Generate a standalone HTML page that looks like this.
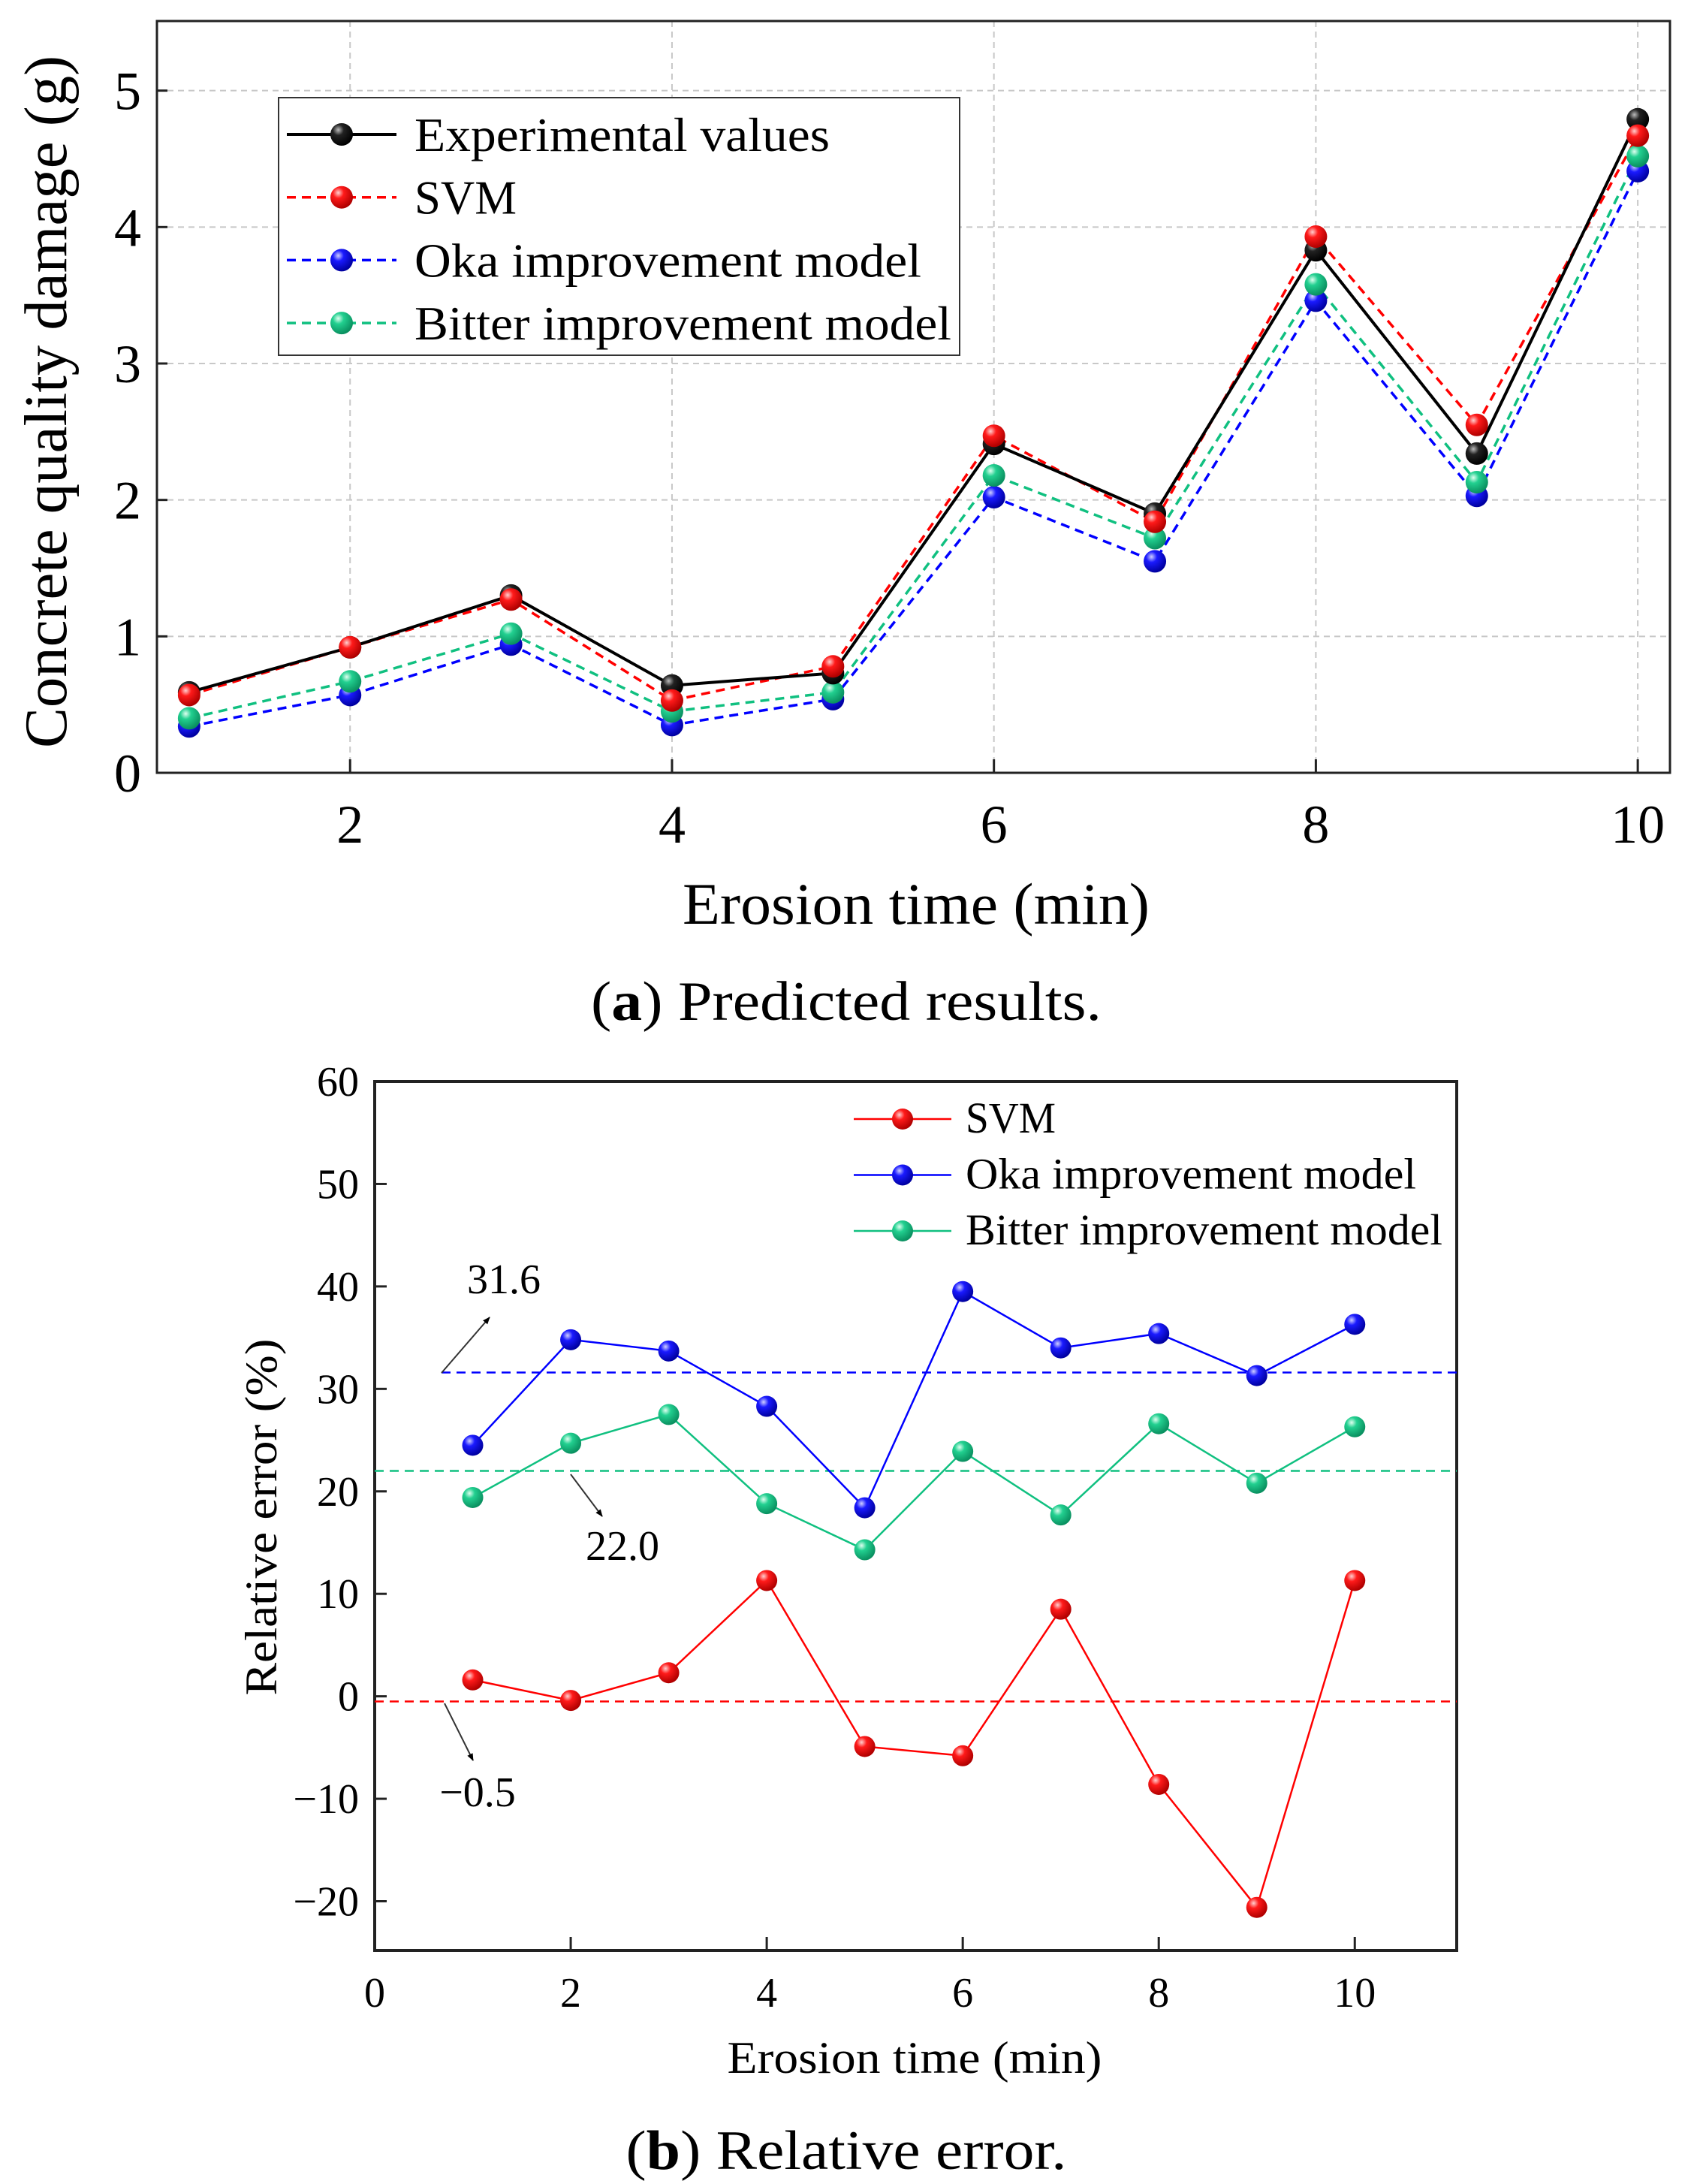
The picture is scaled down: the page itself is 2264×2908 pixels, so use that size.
<!DOCTYPE html>
<html><head><meta charset="utf-8">
<style>
html,body{margin:0;padding:0;background:#fff;}
svg{display:block;font-family:"Liberation Serif",serif;}
</style></head>
<body>
<svg id="fig" width="2264" height="2908" viewBox="0 0 2264 2908" xmlns="http://www.w3.org/2000/svg">
<defs>
<radialGradient id="g-black" cx="0.35" cy="0.3" r="0.7"><stop offset="0" stop-color="#bbb"/><stop offset="0.35" stop-color="#222"/><stop offset="1" stop-color="#000"/></radialGradient>
<radialGradient id="g-red" cx="0.35" cy="0.3" r="0.7"><stop offset="0" stop-color="#ffd0d0"/><stop offset="0.35" stop-color="#ff1a1a"/><stop offset="1" stop-color="#b00000"/></radialGradient>
<radialGradient id="g-blue" cx="0.35" cy="0.3" r="0.7"><stop offset="0" stop-color="#d0d0ff"/><stop offset="0.35" stop-color="#1a1aff"/><stop offset="1" stop-color="#0000a0"/></radialGradient>
<radialGradient id="g-green" cx="0.35" cy="0.3" r="0.7"><stop offset="0" stop-color="#e0fff0"/><stop offset="0.35" stop-color="#22d090"/><stop offset="1" stop-color="#0a9060"/></radialGradient>
<marker id="arr" markerWidth="10" markerHeight="10" refX="9" refY="5" orient="auto" markerUnits="userSpaceOnUse" viewBox="0 0 10 10"><path d="M0,1 L10,5 L0,9 z" fill="#000"/></marker>
</defs>
<g id="topChart"></g>
<g id="botChart"></g>
</svg>
<script>
// ---- Chart (a) data ----
const timesA = [1,2,3,4,5,6,7,8,9,10];
const expVals = [0.59,0.92,1.30,0.64,0.73,2.41,1.90,3.83,2.34,4.79];
const svmVals = [0.57,0.92,1.27,0.53,0.78,2.47,1.84,3.93,2.55,4.67];
const okaVals = [0.34,0.57,0.94,0.35,0.54,2.02,1.55,3.46,2.03,4.41];
const bitterVals = [0.40,0.67,1.02,0.45,0.59,2.18,1.72,3.58,2.13,4.52];
const yTicksA = [0,1,2,3,4,5];
const xTicksA = [2,4,6,8,10];
// ---- Chart (b) data ----
const timesB = [1,2,3,4,5,6,7,8,9,10];
const svmErr = [1.6,-0.4,2.3,11.3,-4.9,-5.8,8.5,-8.6,-20.6,11.3];
const okaErr = [24.5,34.8,33.7,28.3,18.4,39.5,34.0,35.4,31.3,36.3];
const bitterErr = [19.4,24.7,27.5,18.8,14.3,23.9,17.7,26.6,20.8,26.3];
const meanErr = [-0.5,31.6,22.0];
const yTicksB = [-20,-10,0,10,20,30,40,50,60];
const xTicksB = [0,2,4,6,8,10];

const NS="http://www.w3.org/2000/svg";
function mk(parent,tag,attrs,text){const e=document.createElementNS(NS,tag);for(const k in attrs)e.setAttribute(k,attrs[k]);if(text!==undefined)e.textContent=text;parent.appendChild(e);return e;}

// ===== Chart (a) =====
const A={l:209,r:2224,t:28,b:1029,x0:0.8,x1:10.2,y0:0,y1:5.51};
const xa=v=>A.l+(v-A.x0)/(A.x1-A.x0)*(A.r-A.l);
const ya=v=>A.b-(v-A.y0)/(A.y1-A.y0)*(A.b-A.t);
const topG=document.getElementById('topChart');
yTicksA.forEach(v=>{if(v>0){const g=mk(topG,'line',{x1:A.l,x2:A.r,y1:ya(v),y2:ya(v),stroke:'#c8c8c8','stroke-width':2,'stroke-dasharray':'8,6'});

}});
xTicksA.forEach(v=>{const g=mk(topG,'line',{x1:xa(v),x2:xa(v),y1:A.t,y2:A.b,stroke:'#c8c8c8','stroke-width':2,'stroke-dasharray':'8,6'});

});
const fa=mk(topG,'rect',{x:A.l,y:A.t,width:A.r-A.l,height:A.b-A.t,fill:'none',stroke:'#222','stroke-width':3});


yTicksA.forEach(v=>{
 const t=mk(topG,'line',{x1:A.l,x2:A.l+14,y1:ya(v),y2:ya(v),stroke:'#222','stroke-width':3});
 
 
 const l=mk(topG,'text',{x:188,y:ya(v)+25,'text-anchor':'end','font-size':72},String(v));
 
 
});
xTicksA.forEach(v=>{
 const t=mk(topG,'line',{x1:xa(v),x2:xa(v),y1:A.b,y2:A.b-18,stroke:'#222','stroke-width':3});
 
 
 const l=mk(topG,'text',{x:xa(v),y:1122,'text-anchor':'middle','font-size':72},String(v));
 
 
});
let t1=mk(topG,'text',{x:1220,y:1230,'text-anchor':'middle','font-size':78,textLength:622,lengthAdjust:'spacingAndGlyphs'},'Erosion time (min)');


t1=mk(topG,'text',{x:0,y:0,'text-anchor':'middle','font-size':80,textLength:922,lengthAdjust:'spacingAndGlyphs',transform:'translate(88,535) rotate(-90)'},'Concrete quality damage (g)');


const seriesA=[
 {name:'experimental',vals:expVals,color:'#000',grad:'g-black',dash:null,w:4},
 {name:'svm',vals:svmVals,color:'#ff0000',grad:'g-red',dash:'12,8',w:3.5},
 {name:'oka',vals:okaVals,color:'#0000ff',grad:'g-blue',dash:'12,8',w:3.5},
 {name:'bitter',vals:bitterVals,color:'#10c080',grad:'g-green',dash:'12,8',w:3.5}];
[3,2,1,0].forEach(i=>{const s=seriesA[i];
 const pts=s.vals.map((v,j)=>xa(timesA[j])+','+ya(v)).join(' ');
 const at={points:pts,fill:'none',stroke:s.color,'stroke-width':s.w};if(s.dash)at['stroke-dasharray']=s.dash;
 const p=mk(topG,'polyline',at);
 
 
});
[2,3,0,1].forEach(i=>{const s=seriesA[i];
 s.vals.forEach((v,j)=>{const c=mk(topG,'circle',{cx:xa(timesA[j]),cy:ya(v),r:15,fill:'url(#'+s.grad+')'});
 
 });
});
const lgA=mk(topG,'g',{});


mk(lgA,'rect',{x:371,y:130,width:907,height:343,fill:'#fff',stroke:'#333','stroke-width':2});
const labelsA=['Experimental values','SVM','Oka improvement model','Bitter improvement model'];
const lensA=[553,136,675,715];
seriesA.forEach((s,i)=>{const y=179+i*83.7;
 const g=mk(lgA,'g',{});
 
 
 const at={x1:382,x2:528,y1:y,y2:y,stroke:s.color,'stroke-width':s.w};if(s.dash)at['stroke-dasharray']=s.dash;
 mk(g,'line',at);
 mk(g,'circle',{cx:455,cy:y,r:15,fill:'url(#'+s.grad+')'});
 mk(g,'text',{x:552,y:y+22,'font-size':64,textLength:lensA[i],lengthAdjust:'spacingAndGlyphs'},labelsA[i]);
});
t1=mk(topG,'text',{x:1127,y:1358,'text-anchor':'middle','font-size':74,textLength:680,lengthAdjust:'spacingAndGlyphs'});
mk(t1,'tspan',{},'(');
mk(t1,'tspan',{'font-weight':'bold'},'a');
mk(t1,'tspan',{},') Predicted results.');



// ===== Chart (b) =====
const B={l:499,r:1940,t:1440,b:2597,x0:0,x1:11.04,y0:-24.8,y1:60};
const xb=v=>B.l+(v-B.x0)/(B.x1-B.x0)*(B.r-B.l);
const yb=v=>B.b-(v-B.y0)/(B.y1-B.y0)*(B.b-B.t);
const botG=document.getElementById('botChart');
const fb=mk(botG,'rect',{x:B.l,y:B.t,width:B.r-B.l,height:B.b-B.t,fill:'none',stroke:'#222','stroke-width':4});


yTicksB.forEach(v=>{
 const t=mk(botG,'line',{x1:B.l,x2:B.l+16,y1:yb(v),y2:yb(v),stroke:'#222','stroke-width':3});
 
 
 const l=mk(botG,'text',{x:478,y:yb(v)+19,'text-anchor':'end','font-size':56},(v<0?'\u2212':'')+Math.abs(v));
 
 
});
xTicksB.forEach(v=>{
 const t=mk(botG,'line',{x1:xb(v),x2:xb(v),y1:B.b,y2:B.b-18,stroke:'#222','stroke-width':3});
 
 
 const l=mk(botG,'text',{x:xb(v),y:2672,'text-anchor':'middle','font-size':56},String(v));
 
 
});
t1=mk(botG,'text',{x:1218,y:2760,'text-anchor':'middle','font-size':60,textLength:499,lengthAdjust:'spacingAndGlyphs'},'Erosion time (min)');


t1=mk(botG,'text',{x:0,y:0,'text-anchor':'middle','font-size':60,textLength:475,lengthAdjust:'spacingAndGlyphs',transform:'translate(368,2020) rotate(-90)'},'Relative error (%)');


const meanColors=['#ff0000','#0000ff','#10c080'];
const meanStart=[B.l,588,B.l];
meanErr.forEach((m,i)=>{const l=mk(botG,'line',{x1:meanStart[i],x2:B.r,y1:yb(m),y2:yb(m),stroke:meanColors[i],'stroke-width':2.5,'stroke-dasharray':'12,8'});
 
 });
const ann=[{txt:'\u22120.5',tx:636,ty:2405,ax1:592,ay1:2268,ax2:630,ay2:2344},
 {txt:'31.6',tx:671,ty:1722,ax1:588,ay1:1828,ax2:652,ay2:1754},
 {txt:'22.0',tx:829,ty:2077,ax1:760,ay1:1963,ax2:802,ay2:2019}];
ann.forEach(a=>{const g=mk(botG,'g',{});
 
 
 mk(g,'line',{x1:a.ax1,y1:a.ay1,x2:a.ax2,y2:a.ay2,stroke:'#333','stroke-width':2,'marker-end':'url(#arr)'});
 mk(g,'text',{x:a.tx,y:a.ty,'text-anchor':'middle','font-size':56},a.txt);
});
const seriesB=[
 {name:'svm',vals:svmErr,color:'#ff0000',grad:'g-red'},
 {name:'oka',vals:okaErr,color:'#0000ff',grad:'g-blue'},
 {name:'bitter',vals:bitterErr,color:'#10c080',grad:'g-green'}];
seriesB.forEach(s=>{
 const pts=s.vals.map((v,j)=>xb(timesB[j])+','+yb(v)).join(' ');
 const p=mk(botG,'polyline',{points:pts,fill:'none',stroke:s.color,'stroke-width':2.5});
 
 
 s.vals.forEach((v,j)=>{const c=mk(botG,'circle',{cx:xb(timesB[j]),cy:yb(v),r:14,fill:'url(#'+s.grad+')'});
 
 });
});
const lgB=mk(botG,'g',{});


const labelsB=['SVM','Oka improvement model','Bitter improvement model'];
const lensB=[120,600,635];
seriesB.forEach((s,i)=>{const y=1490+i*74.5;
 const g=mk(lgB,'g',{});
 
 
 mk(g,'line',{x1:1137,x2:1267,y1:y,y2:y,stroke:s.color,'stroke-width':2.5});
 mk(g,'circle',{cx:1202,cy:y,r:14,fill:'url(#'+s.grad+')'});
 mk(g,'text',{x:1286,y:y+18,'font-size':58,textLength:lensB[i],lengthAdjust:'spacingAndGlyphs'},labelsB[i]);
});
t1=mk(botG,'text',{x:1127,y:2888,'text-anchor':'middle','font-size':74,textLength:587,lengthAdjust:'spacingAndGlyphs'});
mk(t1,'tspan',{},'(');
mk(t1,'tspan',{'font-weight':'bold'},'b');
mk(t1,'tspan',{},') Relative error.');


</script>
</body></html>
